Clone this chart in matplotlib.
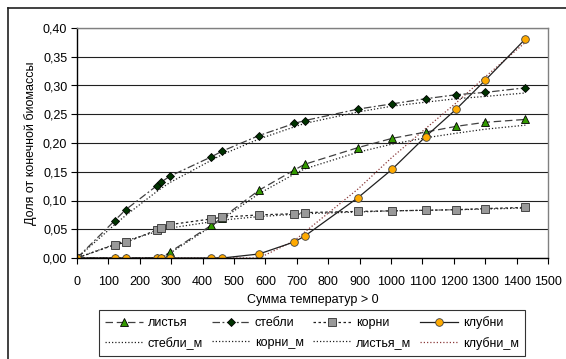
import matplotlib
matplotlib.use("Agg")
import matplotlib.pyplot as plt
from matplotlib.lines import Line2D
from matplotlib.ticker import FuncFormatter, MultipleLocator

plt.rcParams['font.family'] = ['Liberation Sans', 'DejaVu Sans']
plt.rcParams['font.size'] = 9

# сумма температур > 0
temp_sum = [0, 120, 155, 255, 268, 295, 428, 463, 580, 692, 725, 895, 1003, 1110, 1208, 1300, 1428]

# данные
listya = [0, 0, 0, 0, 0, 0.010, 0.057, 0.070, 0.118, 0.153, 0.163, 0.192, 0.208, 0.219, 0.229, 0.236, 0.241]
stebli = [0, 0.065, 0.084, 0.126, 0.132, 0.142, 0.176, 0.186, 0.213, 0.234, 0.239, 0.259, 0.268, 0.277, 0.284, 0.288, 0.296]
korni = [0, 0.023, 0.027, 0.049, 0.053, 0.058, 0.068, 0.071, 0.075, 0.077, 0.079, 0.081, 0.082, 0.083, 0.084, 0.086, 0.088]
klubni = [0, 0, 0, 0, 0, 0, 0, 0, 0.007, 0.028, 0.038, 0.105, 0.154, 0.211, 0.259, 0.309, 0.381]

# модель
stebli_m = [0, 0.058, 0.074, 0.116, 0.121, 0.131, 0.170, 0.180, 0.207, 0.228, 0.234, 0.254, 0.264, 0.271, 0.277, 0.281, 0.287]
korni_m = [0, 0.024, 0.030, 0.046, 0.048, 0.052, 0.063, 0.066, 0.072, 0.076, 0.077, 0.080, 0.082, 0.083, 0.084, 0.085, 0.087]
listya_m = [0, 0, 0, 0, 0, 0.008, 0.055, 0.068, 0.112, 0.146, 0.155, 0.184, 0.198, 0.209, 0.217, 0.224, 0.231]
klubni_m = [0, 0, 0, 0, 0, 0, 0, 0, 0, 0.030, 0.045, 0.120, 0.175, 0.225, 0.270, 0.315, 0.375]

fig = plt.figure(figsize=(5.66, 3.59), dpi=100)
ax = fig.add_axes([77 / 566, 1 - 258 / 359, 471 / 566, 230 / 359])

dot = (0, (1, 1.6))
l_lm, = ax.plot(temp_sum, listya_m, color='#202020', lw=0.9, ls=dot, label='листья_м')
l_sm, = ax.plot(temp_sum, stebli_m, color='#202020', lw=0.9, ls=dot, label='стебли_м')
l_km, = ax.plot(temp_sum, korni_m, color='#202020', lw=0.9, ls=dot, label='корни_м')
l_cm, = ax.plot(temp_sum, klubni_m, color='#8b3a3a', lw=0.9, ls=dot, label='клубни_м')

l_l, = ax.plot(temp_sum, listya, color='#404040', lw=0.9, ls=(0, (6, 3)),
               marker='^', ms=6, mfc='#339900', mec='black', mew=0.6, label='листья')
l_s, = ax.plot(temp_sum, stebli, color='#404040', lw=0.9, ls=(0, (6, 2, 1.5, 2)),
               marker='D', ms=4.5, mfc='#003300', mec='black', mew=0.6, label='стебли')
l_k, = ax.plot(temp_sum, korni, color='#202020', lw=0.9, ls=(0, (2, 2)),
               marker='s', ms=5.5, mfc='#999999', mec='#303030', mew=0.6, label='корни')
l_c, = ax.plot(temp_sum, klubni, color='#202020', lw=0.9, ls='-',
               marker='o', ms=5.5, mfc='#ffaa00', mec='#404040', mew=0.6, label='клубни')

ax.set_xlim(0, 1500)
ax.set_ylim(0, 0.40)
ax.xaxis.set_major_locator(MultipleLocator(100))
ax.yaxis.set_major_locator(MultipleLocator(0.05))
ax.yaxis.set_major_formatter(FuncFormatter(lambda v, p: f"{v:.2f}".replace('.', ',')))
ax.grid(axis='y', color='#202020', lw=0.8)
ax.set_axisbelow(True)
ax.tick_params(direction='out', length=4, width=0.8, labelsize=9)
ax.tick_params(axis='x', pad=9)
ax.tick_params(axis='y', pad=3)
for s in ['left', 'bottom']:
    ax.spines[s].set_color('black')
    ax.spines[s].set_linewidth(1.0)
for s in ['top', 'right']:
    ax.spines[s].set_color('#808080')
    ax.spines[s].set_linewidth(1.0)

ax.set_xlabel('Сумма температур > 0', fontsize=9, labelpad=4)
ax.set_ylabel('Доля от конечной биомассы', fontsize=9, labelpad=4)

handles = [l_l, l_sm, l_s, l_km, l_k, l_lm, l_c, l_cm]
leg = fig.legend(handles=handles, ncol=4, loc='lower left',
                 bbox_to_anchor=(99 / 566, 1 - 356 / 359, 426 / 566, 42 / 359),
                 mode='expand', fontsize=9, frameon=True, fancybox=False,
                 edgecolor='black', handlelength=3.0, handletextpad=0.4,
                 columnspacing=0.6, borderaxespad=0, borderpad=0.5, labelspacing=0.6)
leg.get_frame().set_linewidth(0.8)

# рамка области диаграммы
fig.add_artist(Line2D([8 / 566, 8 / 566], [0, 1 - 8 / 359], transform=fig.transFigure,
                      color='#202020', lw=1.2))
fig.add_artist(Line2D([8 / 566, 1], [1 - 8 / 359, 1 - 8 / 359], transform=fig.transFigure,
                      color='#202020', lw=1.2))

fig.savefig('out.png', dpi=100)
